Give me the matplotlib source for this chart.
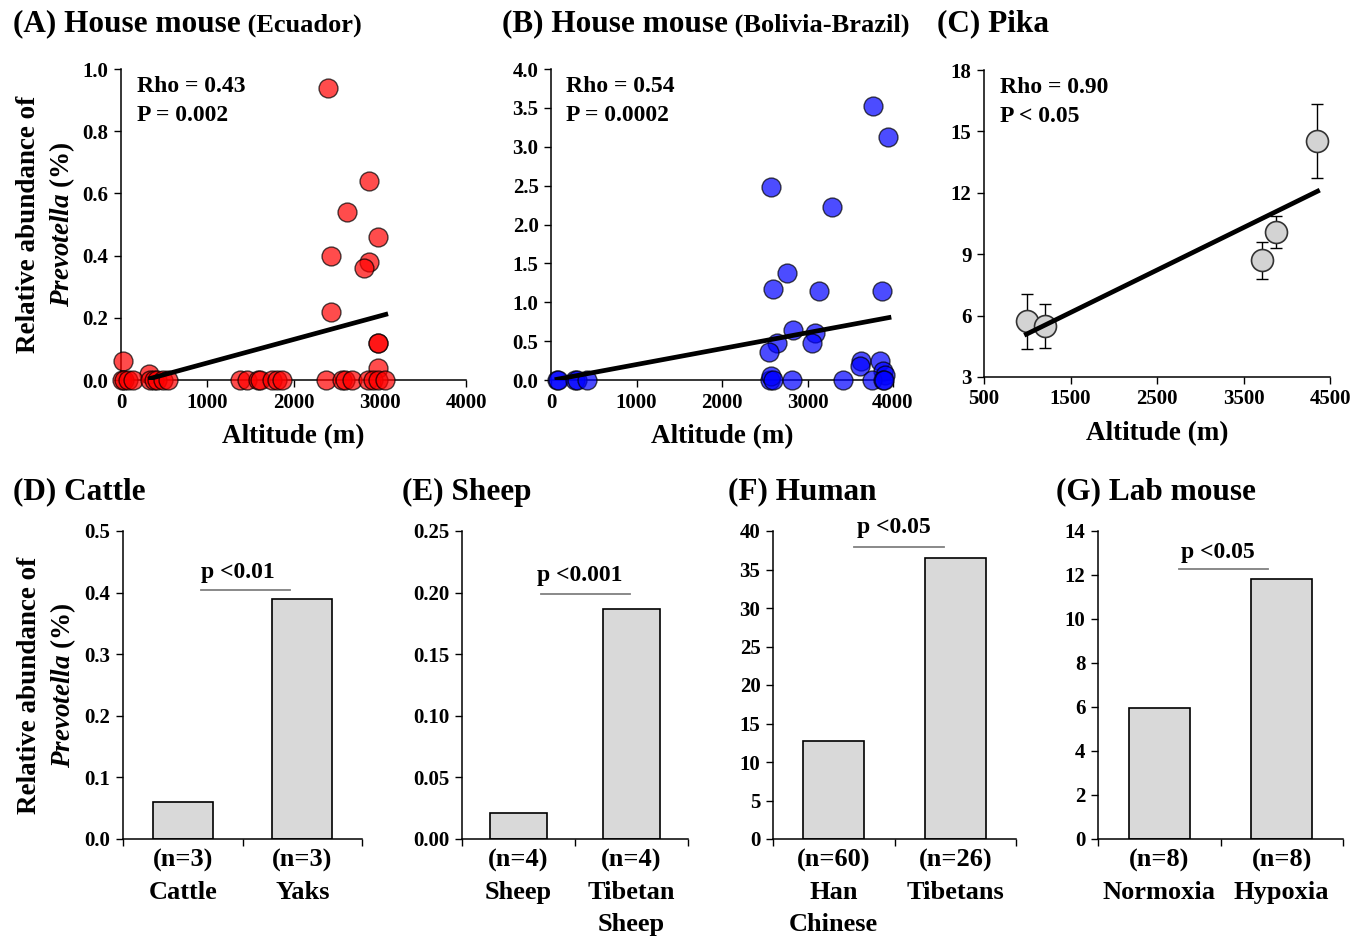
"""Prevotella vs altitude / hypoxia: three scatter panels + four bar panels."""
import matplotlib
matplotlib.use("Agg")
import matplotlib.pyplot as plt
import numpy as np

plt.rcParams.update({
    "font.family": "Liberation Serif",
    "font.weight": "bold",
    "axes.labelweight": "bold",
    "mathtext.fontset": "custom",
    "mathtext.it": "Liberation Serif:italic:bold",
    "mathtext.rm": "Liberation Serif:bold",
    "axes.linewidth": 1.1,
    "xtick.major.width": 1.0,
    "ytick.major.width": 1.0,
    "xtick.minor.width": 1.0,
})

# ---- (A) house mouse, Ecuador ----
eca_alt = [2398, 2880, 2622, 2985, 2432, 2880, 2822, 2432, 2977, 2985, 2985, 23, 328,
           8, 40, 81, 139, 336, 380, 417, 487, 548, 1380, 1457, 1591, 1611, 1746,
           1804, 1862, 2376, 2558, 2596, 2674, 2866, 2924, 2982, 3060]
eca_prev = [0.94, 0.64, 0.54, 0.46, 0.40, 0.38, 0.36, 0.22, 0.12, 0.12, 0.04, 0.06, 0.02,
            0, 0, 0, 0, 0, 0, 0, 0, 0, 0, 0, 0, 0, 0,
            0, 0, 0, 0, 0, 0, 0, 0, 0, 0]
eca_fit_x = [340, 3070]
eca_fit_y = [0.005, 0.211]

# ---- (B) house mouse, Bolivia-Brazil ----
bol_alt = [3766, 3941, 2568, 3292, 2755, 2591, 3136, 3875, 2833, 3086, 2638, 3047, 2553,
           3630, 3611, 3852, 3883, 3903,
           70, 82, 284, 303, 421, 2561, 2575, 2596, 2819, 3415, 3754, 3883, 3891]
bol_prev = [3.53, 3.13, 2.48, 2.22, 1.37, 1.17, 1.14, 1.14, 0.64, 0.60, 0.48, 0.48, 0.36,
            0.24, 0.18, 0.24, 0.11, 0.06,
            0, 0, 0, 0, 0, 0, 0.05, 0, 0, 0, 0, 0, 0]
bol_fit_x = [70, 3953]
bol_fit_y = [0.009, 0.803]

# ---- (C) pika ----
pika_alt = [1001, 1202, 3709, 3871, 4345]
pika_prev = [5.72, 5.49, 8.71, 10.09, 14.53]
pika_err = [1.33, 1.06, 0.91, 0.77, 1.83]
pika_fit_x = [990, 4357]
pika_fit_y = [5.09, 12.08]

# ---- (D)-(G) bar panels ----
cattle_lab = ["(n=3)\nCattle", "(n=3)\nYaks"]
cattle_val = [0.060, 0.390]
sheep_lab = ["(n=4)\nSheep", "(n=4)\nTibetan\nSheep"]
sheep_val = [0.0208, 0.187]
human_lab = ["(n=60)\nHan\nChinese", "(n=26)\nTibetans"]
human_val = [12.75, 36.5]
lab_lab = ["(n=8)\nNormoxia", "(n=8)\nHypoxia"]
lab_val = [5.94, 11.83]

W, H = 1368, 942
fig = plt.figure(figsize=(W / 100, H / 100), dpi=100)


def px_rect(x0, x1, ytop, ybot):
    return [x0 / W, 1 - ybot / H, (x1 - x0) / W, (ybot - ytop) / H]


YLAB = "Relative abundance of\n$\\mathit{Prevotella}$ (%)"
TICK_FS = 15
TITLE_FS = 22.5


def style(ax):
    for s in ("top", "right"):
        ax.spines[s].set_visible(False)
    ax.tick_params(direction="out", length=5, labelsize=TICK_FS, pad=4)


def scatter_panel(rect, x, y, fit_x, fit_y, color, ylim, yticks, yfmt, stat):
    ax = fig.add_axes(rect)
    style(ax)
    ax.scatter(x, y, s=185, c=color, alpha=0.7, edgecolors="black",
               linewidths=1.0, zorder=3, clip_on=False)
    ax.plot(fit_x, fit_y, color="black", lw=3.4, zorder=4)
    ax.set_xlim(0, 4000)
    ax.set_xticks([0, 1000, 2000, 3000, 4000])
    ax.set_ylim(*ylim)
    ax.set_yticks(yticks)
    ax.set_yticklabels([yfmt.format(v) for v in yticks])
    ax.set_xlabel("Altitude (m)", fontsize=19.5, labelpad=8)
    ax.text(0.045, 0.978, stat, transform=ax.transAxes, fontsize=17,
            va="top", ha="left", linespacing=1.5)
    return ax


axA = scatter_panel(px_rect(121, 466, 69, 380), eca_alt, eca_prev, eca_fit_x,
                    eca_fit_y, "red", (0, 1.0), np.arange(0, 1.01, 0.2), "{:.1f}",
                    "Rho = 0.43\nP = 0.002")
axA.set_ylabel(YLAB, fontsize=19.5, linespacing=1.3)
axA.yaxis.set_label_coords(-0.128, 0.5)

axB = scatter_panel(px_rect(551, 893, 69, 380), bol_alt, bol_prev, bol_fit_x,
                    bol_fit_y, "blue", (0, 4.0), np.arange(0, 4.01, 0.5), "{:.1f}",
                    "Rho = 0.54\nP = 0.0002")

# pika
axC = fig.add_axes(px_rect(984, 1330, 70, 377))
style(axC)
axC.errorbar(pika_alt, pika_prev, yerr=pika_err, fmt="none", ecolor="black",
             elinewidth=1.0, capsize=4, capthick=1.0, zorder=2)
axC.scatter(pika_alt, pika_prev, s=250, c="#d3d3d3", edgecolors="#333333",
            linewidths=1.2, zorder=3)
axC.plot(pika_fit_x, pika_fit_y, color="black", lw=3.4, zorder=4)
axC.set_xlim(500, 4500)
axC.set_xticks([500, 1500, 2500, 3500, 4500])
axC.set_ylim(3, 18)
axC.set_yticks([3, 6, 9, 12, 15, 18])
axC.set_xlabel("Altitude (m)", fontsize=19.5, labelpad=8)
axC.text(0.045, 0.978, "Rho = 0.90\nP < 0.05", transform=axC.transAxes,
         fontsize=17, va="top", ha="left", linespacing=1.5)

# titles (top row)
for x, main, sub in [(13, "(A) House mouse", "(Ecuador)"),
                     (502, "(B) House mouse", "(Bolivia-Brazil)"),
                     (937, "(C) Pika", None)]:
    t = fig.text(x / W, 1 - 24 / H, main, fontsize=TITLE_FS, va="center", ha="left")
    if sub:
        axA.annotate(" " + sub, xy=(1, 0.04), xycoords=t, fontsize=19,
                     va="bottom", ha="left", annotation_clip=False)


def bar_panel(rect, labels, vals, ymax, yticks, yfmt, sig_x, sig_y, txt_x, txt_y, ptxt):
    ax = fig.add_axes(rect)
    style(ax)
    ax.bar([0, 1], vals, width=0.5, color="#d9d9d9", edgecolor="black",
           linewidth=1.2, zorder=2)
    ax.set_xlim(-0.5, 1.5)
    ax.set_ylim(0, ymax)
    ax.set_yticks(yticks)
    ax.set_yticklabels([yfmt.format(v) for v in yticks])
    ax.set_xticks([0, 1])
    ax.set_xticklabels(labels, fontsize=19, linespacing=1.5)
    ax.set_xticks([-0.5, 0.5, 1.5], minor=True)
    ax.tick_params(axis="x", which="major", length=0, pad=7)
    ax.tick_params(axis="x", which="minor", direction="out", length=5)
    ax.plot(sig_x, [sig_y, sig_y], color="#808080", lw=1.3, clip_on=False)
    ax.text(txt_x, txt_y, ptxt, fontsize=17, ha="center", va="center")
    return ax


axD = bar_panel(px_rect(123, 362, 531, 839), cattle_lab, cattle_val, 0.5,
                np.arange(0, 0.51, 0.1), "{:.1f}", [0.15, 0.90], 0.404, 0.46, 0.433,
                "p <0.01")
axD.set_ylabel(YLAB, fontsize=19.5, linespacing=1.3)
axD.yaxis.set_label_coords(-0.188, 0.5)

bar_panel(px_rect(462, 688, 531, 839), sheep_lab, sheep_val, 0.25,
          np.arange(0, 0.251, 0.05), "{:.2f}", [0.2, 0.99], 0.1985, 0.54, 0.2136,
          "p <0.001")
bar_panel(px_rect(773, 1016, 531, 839), human_lab, human_val, 40,
          np.arange(0, 41, 5), "{:.0f}", [0.166, 0.905], 37.9, 0.494, 40.5,
          "p <0.05")
bar_panel(px_rect(1098, 1343, 531, 839), lab_lab, lab_val, 14,
          np.arange(0, 14.1, 2), "{:.0f}", [0.16, 0.886], 12.28, 0.478, 13.04,
          "p <0.05")

for x, main in [(13, "(D) Cattle"), (402, "(E) Sheep"), (728, "(F) Human"),
                (1056, "(G) Lab mouse")]:
    fig.text(x / W, 1 - 492 / H, main, fontsize=TITLE_FS, va="center", ha="left")

fig.savefig("out.png", dpi=100)
